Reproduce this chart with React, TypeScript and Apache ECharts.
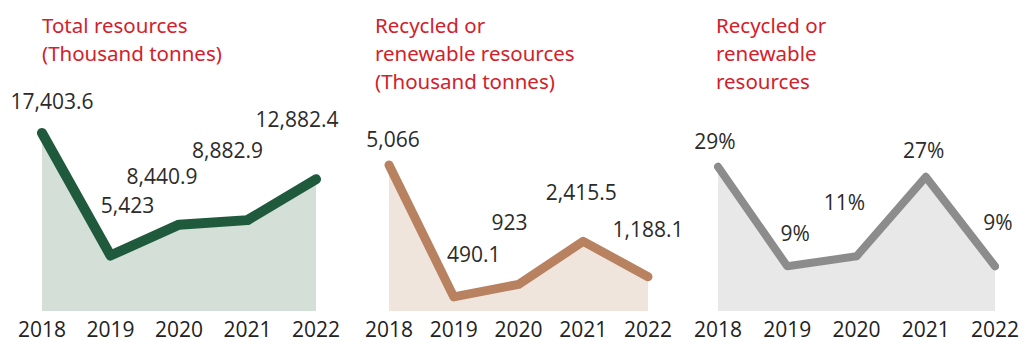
import React, { useEffect, useRef } from "react";
import * as echarts from "echarts";

const years = ["2018", "2019", "2020", "2021", "2022"];
const totalResources = [17403.6, 5423, 8440.9, 8882.9, 12882.4];
const recycledResources = [5066, 490.1, 923, 2415.5, 1188.1];
const recycledShare = [29, 9, 11, 27, 9];

const titles = [
  "Total resources\n(Thousand tonnes)",
  "Recycled or\nrenewable resources\n(Thousand tonnes)",
  "Recycled or\nrenewable\nresources",
];

// label nudges (styling only)
const offs1 = [[10, -16], [17, -35], [-17, -33], [-20, -55], [-19, -45]];
const offs2 = [[4, -10], [20, -27], [-9, -47], [-2, -34], [0, -32]];
const offs3 = [[-3, -10], [8, -18], [-12, -39], [-2, -11], [3, -29]];

const NUM_FONT = "'Open Sans', 'Noto Sans', sans-serif";

export default function App() {
  const ref = useRef<HTMLDivElement>(null);
  useEffect(() => {
    if (!ref.current) return;
    const chart = echarts.init(ref.current, null, { renderer: "svg" });
    const fmt = (v: number) => v.toLocaleString("en-US", { maximumFractionDigits: 1 });

    const grids = [
      { left: 42, width: 274, top: 106.4, bottom: 31 },
      { left: 389, width: 259, top: 138, bottom: 31 },
      { left: 718, width: 277, top: 137, bottom: 31 },
    ];
    const maxes = [20000, 6000, 35];
    const datasets = [totalResources, recycledResources, recycledShare];
    const offs = [offs1, offs2, offs3];
    const lineColors = ["#1f5a3c", "#b88260", "#8c8c8c"];
    const fillColors = ["#d4dfd8", "#f0e5dd", "#e8e8e8"];
    const widths = [10, 9, 8];
    const formatters = [fmt, fmt, (v: number) => v + "%"];
    const titleLefts = [42, 375, 716];

    chart.setOption({
      animation: false,
      backgroundColor: "#ffffff",
      title: titles.map((t, i) => ({
        text: t,
        left: titleLefts[i],
        top: 11,
        padding: 0,
        textStyle: {
          color: "#d4202a",
          fontSize: 20.5,
          fontWeight: "normal",
          fontFamily: "'Noto Sans', sans-serif",
          lineHeight: 28,
        },
      })),
      grid: grids,
      xAxis: grids.map((_, i) => ({
        type: "category",
        gridIndex: i,
        data: years,
        boundaryGap: false,
        axisLine: { show: false },
        axisTick: { show: false },
        splitLine: { show: false },
        axisLabel: {
          color: "#222",
          fontSize: 21,
          lineHeight: 22,
          fontFamily: NUM_FONT,
          margin: 7,
        },
      })),
      yAxis: grids.map((_, i) => ({
        type: "value",
        gridIndex: i,
        min: 0,
        max: maxes[i],
        show: false,
        splitLine: { show: false },
      })),
      series: datasets.map((d, i) => ({
        type: "line",
        xAxisIndex: i,
        yAxisIndex: i,
        symbol: "circle",
        symbolSize: 0.1,
        showSymbol: true,
        itemStyle: { color: lineColors[i] },
        lineStyle: { color: lineColors[i], width: widths[i], cap: "round", join: "round" },
        areaStyle: { color: fillColors[i], opacity: 1 },
        data: d.map((v, j) => ({
          value: v,
          label: {
            show: true,
            position: "top",
            offset: offs[i][j],
            formatter: () => formatters[i](v),
            color: "#2b2b2b",
            fontSize: 21,
            fontFamily: NUM_FONT,
          },
        })),
      })),
    });
    return () => chart.dispose();
  }, []);
  return (
    <div
      ref={ref}
      style={{ position: "fixed", left: 0, top: 0, width: 1024, height: 342 }}
    />
  );
}
